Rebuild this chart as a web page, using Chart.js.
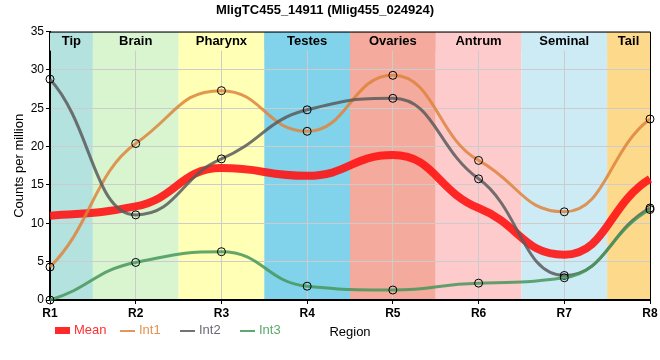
<!DOCTYPE html>
<html>
<head>
<meta charset="utf-8">
<script src="https://cdn.jsdelivr.net/npm/chart.js@4.4.1/dist/chart.umd.min.js"></script>
<style>
  body { margin: 0; background: #fff; }
  #wrap { position: relative; width: 660px; height: 360px; }
  #customLegend { position: absolute; left: 55px; top: 322px; font: 13px "Liberation Sans", Arial, sans-serif; white-space: nowrap; }
  .legend-item { display: inline-block; }
  .legend-color { display: inline-block; width: 15px; vertical-align: middle; margin-right: 4px; }
</style>
</head>
<body>
<div id="wrap">
  <canvas id="geneChart" width="660" height="360"></canvas>
  <div id="customLegend"></div>
</div>
<script>
// Données
const regions = ['R1', 'R2', 'R3', 'R4', 'R5', 'R6', 'R7', 'R8'];
const tissues = ['Tip', 'Brain', 'Pharynx', 'Testes', 'Ovaries', 'Antrum', 'Seminal', 'Tail'];
const tissueColors = ['#b3e2df', '#d8f5d0', '#ffffb5', '#80d3ea', '#f4aa9c', '#fecbcc', '#cdebf5', '#fdd98b'];
const yTicks = [0, 5, 10, 15, 20, 25, 30, 35];

const meanValues = [11.0, 12.2, 17.2, 16.2, 18.9, 12.0, 5.9, 15.8];
const int1Values = [4.3, 20.4, 27.3, 22.0, 29.3, 18.2, 11.5, 23.6];
const int2Values = [28.8, 11.1, 18.4, 24.8, 26.3, 15.8, 3.2, 12.0];
const int3Values = [0.0, 4.9, 6.3, 1.8, 1.3, 2.2, 2.9, 11.8];

// Bandes de couleur par région
const bandsPlugin = {
    id: 'bands',
    beforeDraw(chart) {
        const { ctx, chartArea, scales } = chart;
        const x = scales.x;
        const step = x.getPixelForValue(1) - x.getPixelForValue(0);
        ctx.save();
        tissues.forEach((t, i) => {
            const c = x.getPixelForValue(i);
            const l = Math.max(chartArea.left, c - step / 2);
            const r = Math.min(chartArea.right, c + step / 2);
            ctx.fillStyle = tissueColors[i];
            ctx.fillRect(l, chartArea.top, r - l, chartArea.bottom - chartArea.top);
        });
        ctx.restore();
    },
    beforeDatasetsDraw(chart) {
        const { ctx, chartArea, scales } = chart;
        const x = scales.x;
        const step = x.getPixelForValue(1) - x.getPixelForValue(0);
        ctx.save();
        tissues.forEach((t, i) => {
            const c = x.getPixelForValue(i);
            const l = Math.max(chartArea.left, c - step / 2);
            const r = Math.min(chartArea.right, c + step / 2);
            ctx.fillStyle = tissueColors[i];
            ctx.fillRect(l, chartArea.top + 1, r - l, 18);
            ctx.fillStyle = '#000';
            ctx.font = 'bold 13px "Liberation Sans", Arial, sans-serif';
            ctx.textAlign = 'center';
            ctx.textBaseline = 'middle';
            ctx.fillText(t, (l + r) / 2, chartArea.top + 10);
        });
        // cadre haut et droite
        ctx.strokeStyle = '#000';
        ctx.lineWidth = 1;
        ctx.beginPath();
        ctx.moveTo(chartArea.left, chartArea.top + 0.5);
        ctx.lineTo(chartArea.right + 0.5, chartArea.top + 0.5);
        ctx.lineTo(chartArea.right + 0.5, chartArea.bottom);
        ctx.stroke();
        ctx.restore();
    },
    // Courbes plus plates autour des points (points de contrôle écartés)
    beforeDatasetDraw(chart, args) {
        const line = args.meta.dataset;
        if (!line || line._flattened) return;
        line.updateControlPoints(chart.chartArea, 'x');
        const k = 1.45;
        line.points.forEach(p => {
            if (p.cp1x !== undefined) p.cp1x = p.x - (p.x - p.cp1x) * k;
            if (p.cp2x !== undefined) p.cp2x = p.x + (p.cp2x - p.x) * k;
        });
        line._flattened = true;
    }
};

const pointStyle = {
    pointRadius: 4,
    pointHoverRadius: 4,
    pointBorderWidth: 1,
    pointBorderColor: '#000',
    pointBackgroundColor: 'rgba(0,0,0,0)'
};

const datasets = [
    { label: 'Mean', data: meanValues, borderColor: 'rgba(255,20,20,0.9)', borderWidth: 8, pointRadius: 0, order: 4 },
    Object.assign({ label: 'Int1', data: int1Values, borderColor: 'rgba(222,132,60,0.85)', borderWidth: 3, order: 3 }, pointStyle),
    Object.assign({ label: 'Int2', data: int2Values, borderColor: 'rgba(90,90,90,0.85)', borderWidth: 3, order: 2 }, pointStyle),
    Object.assign({ label: 'Int3', data: int3Values, borderColor: 'rgba(70,150,90,0.85)', borderWidth: 3, order: 1 }, pointStyle)
];
datasets.forEach(d => { d.cubicInterpolationMode = 'monotone'; d.fill = false; d.clip = false; });

var ctx = document.getElementById('geneChart').getContext('2d');
var geneChart = new Chart(ctx, {
    type: 'line',
    data: { labels: regions, datasets: datasets },
    options: {
        responsive: false,
        animation: false,
        layout: { padding: { left: 0, right: 10, top: 0, bottom: 0 } },
        scales: {
            x: {
                offset: false,
                grid: { color: '#cccccc', tickLength: 4, tickColor: '#000' },
                border: { color: '#000', width: 2 },
                ticks: { color: '#000', padding: 2, maxRotation: 0, font: { size: 12, weight: 'bold', family: '"Liberation Sans", Arial, sans-serif' } },
                title: { display: true, text: 'Region', color: '#000', padding: { top: 0, bottom: 20 }, font: { size: 13, family: '"Liberation Sans", Arial, sans-serif' } },
                afterFit: s => { s.height = 60; }
            },
            y: {
                min: 0,
                max: 35,
                afterBuildTicks: s => { s.ticks = yTicks.map(v => ({ value: v })); },
                grid: { color: '#cccccc', tickLength: 4, tickColor: '#000' },
                border: { color: '#000', width: 2 },
                ticks: { color: '#000', padding: 2, font: { size: 12, family: '"Liberation Sans", Arial, sans-serif' } },
                title: { display: true, text: 'Counts per million', color: '#000', padding: { top: 12, bottom: 0 }, font: { size: 13, family: '"Liberation Sans", Arial, sans-serif' } },
                afterFit: s => { s.width = 50; }
            }
        },
        plugins: {
            legend: { display: false },
            tooltip: { enabled: false },
            title: {
                display: true,
                text: 'MligTC455_14911 (Mlig455_024924)',
                color: '#000',
                padding: { top: 3, bottom: 13 },
                font: { size: 13, weight: 'bold', family: '"Liberation Sans", Arial, sans-serif' }
            }
        }
    },
    plugins: [bandsPlugin]
});

// Légende personnalisée
const legendColors = ['#ff3030', '#e39250', '#6a6a78', '#5aa86c'];
const legendLefts = [0, 65, 125, 185];
const legendContainer = document.getElementById('customLegend');
datasets.forEach((d, index) => {
    const legendItem = document.createElement('span');
    legendItem.className = 'legend-item';
    legendItem.style.position = 'absolute';
    legendItem.style.left = legendLefts[index] + 'px';
    const colorBox = document.createElement('span');
    colorBox.className = 'legend-color';
    colorBox.style.height = index === 0 ? '7px' : '2px';
    colorBox.style.backgroundColor = index === 0 ? '#ff2a2a' : d.borderColor;
    const labelText = document.createElement('span');
    labelText.textContent = d.label;
    labelText.style.color = legendColors[index];
    legendItem.appendChild(colorBox);
    legendItem.appendChild(labelText);
    legendContainer.appendChild(legendItem);
});
</script>
</body>
</html>
